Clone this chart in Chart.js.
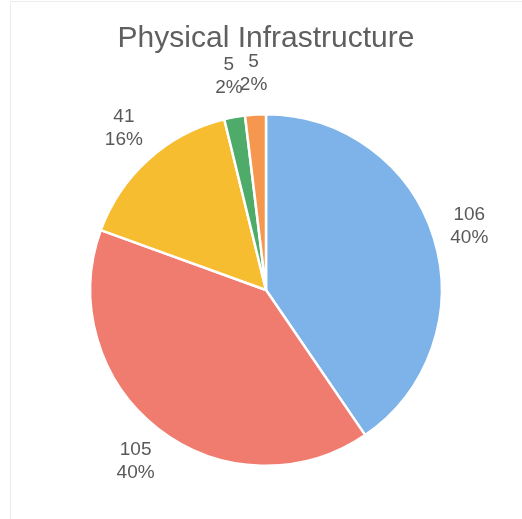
<!DOCTYPE html>
<html>
<head>
<meta charset="utf-8">
<script src="https://cdn.jsdelivr.net/npm/chart.js@4/dist/chart.umd.min.js"></script>
<style>
  html, body { margin: 0; padding: 0; background: #ffffff; }
  #wrap { position: relative; width: 522px; height: 519px; }
  #frame { position: absolute; left: 10px; top: 1px; width: 520px; height: 530px;
           border-left: 1px solid #ececec; border-top: 1px solid #ececec; pointer-events: none; }
  canvas { position: absolute; left: 0; top: 0; }
</style>
</head>
<body>
<div id="wrap">
  <canvas id="c" width="522" height="519"></canvas>
  <div id="frame"></div>
</div>
<script>
const chartTitle = "Physical Infrastructure";
const categories = ["A", "B", "C", "D", "E"];
const values = [106, 105, 41, 5, 5];
const colors = ["#7db3e8", "#f07b6f", "#f7bd31", "#4fab69", "#f5974f"];

const total = values.reduce((a, b) => a + b, 0);
const labelFontSize = 19;
const labelLineHeight = 23;
const labelGap = 18;

const outsideLabels = {
  id: "outsideLabels",
  afterDatasetsDraw(chart) {
    const ctx = chart.ctx;
    const meta = chart.getDatasetMeta(0);
    ctx.save();
    ctx.font = labelFontSize + "px 'Liberation Sans', Arial, sans-serif";
    ctx.fillStyle = "#595959";
    ctx.textAlign = "center";
    ctx.textBaseline = "middle";
    meta.data.forEach((arc, i) => {
      const p = arc.getProps(["x", "y", "startAngle", "endAngle", "outerRadius"], true);
      const mid = (p.startAngle + p.endAngle) / 2;
      const ux = Math.cos(mid), uy = Math.sin(mid);
      const v = values[i];
      const lines = [String(v), Math.round(v / total * 100) + "%"];
      const w = Math.max(...lines.map(t => ctx.measureText(t).width));
      const h = lines.length * labelLineHeight;
      const cx = p.x + (p.outerRadius + labelGap) * ux + (w / 2) * ux;
      const cy = p.y + (p.outerRadius + labelGap) * uy + (h / 2) * uy;
      lines.forEach((t, k) => {
        ctx.fillText(t, cx, cy - h / 2 + labelLineHeight * (k + 0.5));
      });
    });
    ctx.restore();
  }
};

new Chart(document.getElementById("c"), {
  type: "pie",
  data: {
    labels: categories,
    datasets: [{
      data: values,
      backgroundColor: colors,
      borderColor: "#ffffff",
      borderWidth: 2.5
    }]
  },
  options: {
    responsive: false,
    animation: false,
    layout: { padding: { top: 0, bottom: 52, left: 85, right: 75 } },
    plugins: {
      legend: { display: false },
      tooltip: { enabled: false },
      title: {
        display: true,
        text: chartTitle,
        color: "#5f5f5f",
        font: { family: "'Liberation Sans', Arial, sans-serif", size: 30, weight: "normal", lineHeight: 1.2 },
        padding: { top: 21, bottom: 56 }
      }
    }
  },
  plugins: [outsideLabels]
});
</script>
</body>
</html>
